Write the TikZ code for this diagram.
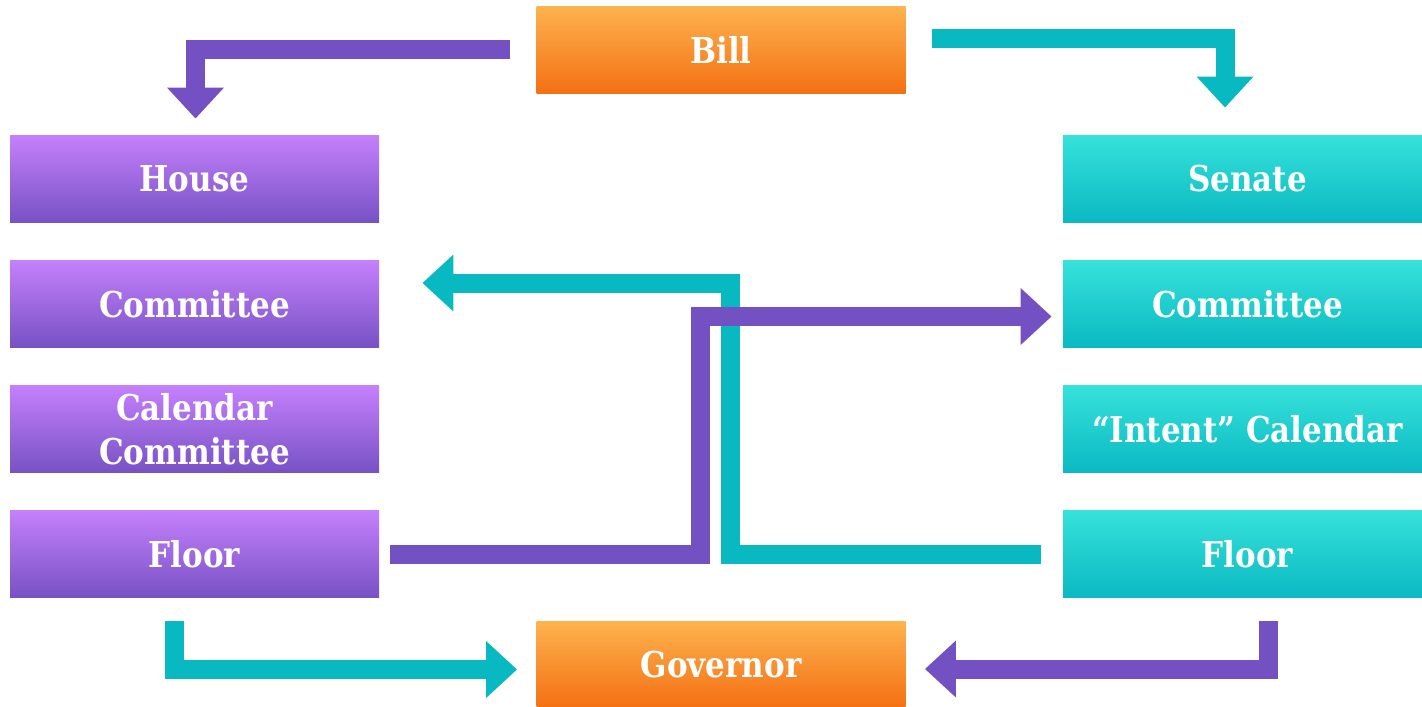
\documentclass[tikz,border=0pt]{standalone}
\usepackage{fontspec}
\setmainfont{DejaVu Serif}[FakeStretch=0.87]
\usepackage{xcolor}
\usetikzlibrary{
    arrows.meta,
    positioning
}
\definecolor{purpletop}{HTML}{C580FC}
\definecolor{purplebot}{HTML}{7752C4}
\definecolor{tealtop}{HTML}{36E2DA}
\definecolor{tealbot}{HTML}{0AB9C3}
\definecolor{orangetop}{HTML}{FDB24E}
\definecolor{orangebot}{HTML}{F47013}
\definecolor{purpleline}{HTML}{7451C2}
\definecolor{tealline}{HTML}{08B9C2}

\begin{document}
\begin{tikzpicture}[x=0.5pt, y=-0.5pt,
    chamber/.style={minimum width=184.5pt, minimum height=43.5pt, inner sep=0pt, text=white, align=center, font=\bfseries\fontsize{17.8}{22}\selectfont},
    housebox/.style={chamber, top color=purpletop, bottom color=purplebot},
    senatebox/.style={chamber, top color=tealtop, bottom color=tealbot},
    endbox/.style={chamber, top color=orangetop, bottom color=orangebot},
    flow/.style={line width=9.5pt, -{Triangle[width=27.5pt, length=15.5pt]}}]
                        \useasboundingbox (0, 0) rectangle (1422, 706);
                        \node[endbox] (bill) at (721, 50) {Bill};
                        \node[housebox] (house) at (194.5, 178.5) {House};
                        \node[housebox] (hcomm) at (194.5, 304) {Committee};
                        \node[housebox] (hcal) at (194.5, 429) {Calendar\\Committee};
                        \node[housebox] (hfloor) at (194.5, 554) {Floor};
                        \node[senatebox] (senate) at (1247.5, 178.5) {Senate};
                        \node[senatebox] (scomm) at (1247.5, 304) {Committee};
                        \node[senatebox] (sintent) at (1247.5, 429) {“Intent” Calendar};
                        \node[senatebox] (sfloor) at (1247.5, 554) {Floor};
                        \node[endbox] (governor) at (721, 664.5) {Governor};
                        \coordinate (tbend) at (730.5, 283);
                        \coordinate (pbend) at (700.5, 316.5);
                        \draw[flow, tealline] ([xshift=13pt, yshift=5.75pt]bill.east) -| ([xshift=-11.25pt, yshift=13.5pt]senate.north);
                        \draw[flow, purpleline] ([xshift=-13pt, yshift=0.25pt]bill.west) -| ([xshift=0.5pt, yshift=8pt]house.north);
                        \draw[flow, tealline] ([xshift=-11pt]sfloor.west) -| (tbend) -- ([xshift=21.5pt, yshift=10.5pt]hcomm.east);
                        \draw[flow, purpleline] ([xshift=5.5pt]hfloor.east) -| (pbend) -- ([xshift=-5.5pt, yshift=-6.25pt]scomm.west);
                        \draw[flow, tealline] ([xshift=-10.25pt, yshift=-11.75pt]hfloor.south) |- ([xshift=-9.5pt, yshift=-2.5pt]governor.west);
                        \draw[flow, purpleline] ([xshift=10.25pt, yshift=-11.75pt]sfloor.south) |- ([xshift=9.5pt, yshift=-2.25pt]governor.east);
                    \end{tikzpicture}
\end{document}
